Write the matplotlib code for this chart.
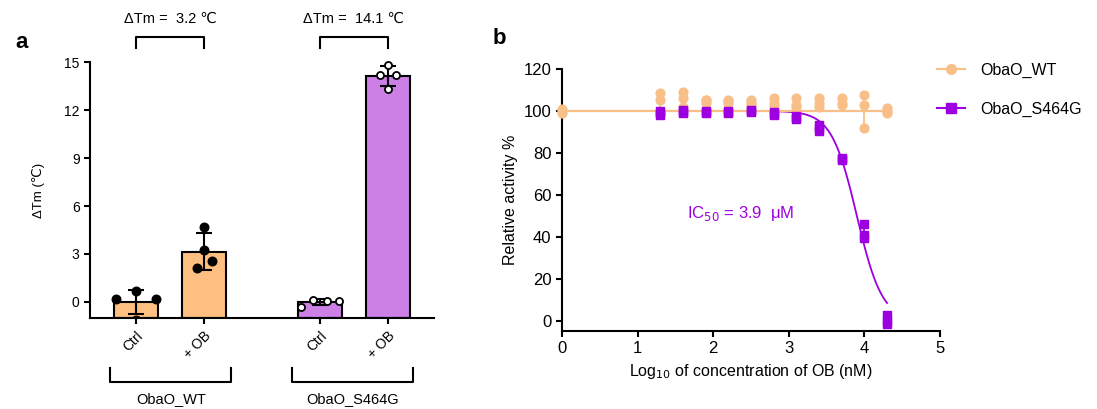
import matplotlib.pyplot as plt
import numpy as np

plt.rcParams['font.family'] = ['Liberation Sans', 'DejaVu Sans']

# ---- panel a data ----
bar_labels = ["Ctrl", "+ OB", "Ctrl", "+ OB"]
bar_pos = [0, 1, 2.7, 3.7]
wt_ctrl = [0.2, 0.7, 0.2, -1.1]
wt_ob = [4.7, 3.25, 2.55, 2.1]
mut_ctrl = [-0.3, 0.1, 0.05, 0.05]
mut_ob = [14.8, 14.2, 14.2, 13.3]
# horizontal spread of the replicate dots within each bar
wt_ctrl_dx = [-0.29, 0.0, 0.29, 0.0]
wt_ob_dx = [0.0, 0.0, 0.12, -0.1]
mut_ctrl_dx = [-0.27, -0.1, 0.1, 0.28]
mut_ob_dx = [0.0, -0.12, 0.12, 0.0]
group_names = ["ObaO_WT", "ObaO_S464G"]
delta_texts = ["ΔTm =  3.2 ℃", "ΔTm =  14.1 ℃"]

# ---- panel b data ----
wt_conc = [0, 1.3, 1.6, 1.9, 2.2, 2.5, 2.8, 3.1, 3.4, 3.7, 4.0, 4.3]
wt_act = [
    [101, 99, 100],
    [108.5, 105, 98.5],
    [109, 106, 102],
    [105, 105, 104],
    [105, 104.5, 104],
    [105, 104, 103],
    [106, 104, 102.5],
    [106, 103, 102],
    [106, 104, 102],
    [106, 104, 103],
    [107.5, 103, 92],
    [101.5, 100, 99],
]
mut_conc = [1.3, 1.6, 1.9, 2.2, 2.5, 2.8, 3.1, 3.4, 3.7, 4.0, 4.3]
mut_act = [
    [100, 99, 98],
    [100.5, 99.5, 99],
    [100, 99.5, 99],
    [100, 99.5, 99],
    [100.5, 100, 99.5],
    [99.5, 98.5, 98],
    [97.5, 96.5, 96],
    [93.5, 92, 90.5],
    [77.5, 77, 76.5],
    [46, 41, 39.5],
    [2.5, 0, -1.5],
]
wt_fit_level = 100
mut_log_ic50 = 3.9
mut_hill = 2.6

orange_bar = '#FFBF80'
purple_bar = '#CC80E5'
orange = '#F8BF88'
purple = '#9C00E0'

fig = plt.figure(figsize=(10.97, 4.09), dpi=100)

# ================= panel a =================
ax = fig.add_axes([0.082, 0.2225, 0.3136, 0.6259])
groups = [wt_ctrl, wt_ob, mut_ctrl, mut_ob]
spreads = [wt_ctrl_dx, wt_ob_dx, mut_ctrl_dx, mut_ob_dx]
colors = [orange_bar, orange_bar, purple_bar, purple_bar]
means = np.array([np.mean(g) for g in groups])
sds = [np.std(g, ddof=1) for g in groups]
base = -1
ax.bar(bar_pos, means - base, bottom=base, width=0.65, color=colors, edgecolor='black',
       linewidth=1.5, zorder=1)
ax.errorbar(bar_pos, means, yerr=sds, fmt='none', ecolor='black', elinewidth=1.5,
            capsize=6, capthick=1.5, zorder=3)
for i, g in enumerate(groups):
    xs = [bar_pos[i] + d for d in spreads[i]]
    if i < 2:
        ax.scatter(xs, g, s=38, color='black', zorder=4)
    else:
        ax.scatter(xs, g, s=26, facecolor='white', edgecolor='black', linewidth=1.3,
                   zorder=4, clip_on=False)

ax.set_ylim(-1, 15)
ax.set_xlim(-0.68, 4.38)
ax.set_yticks([0, 3, 6, 9, 12, 15])
ax.set_xticks(bar_pos)
ax.set_xticklabels(bar_labels, rotation=45, ha='right', rotation_mode='anchor')
ax.tick_params(labelsize=10, width=1.5, length=4)
ax.spines['top'].set_visible(False)
ax.spines['right'].set_visible(False)
ax.spines['left'].set_linewidth(1.5)
ax.spines['bottom'].set_linewidth(1.5)
ax.set_ylabel("ΔTm (℃)", fontsize=9.5, labelpad=14)

trans = ax.get_xaxis_transform()
# top brackets with delta Tm
for (x0, x1), txt in zip([(0, 1), (2.7, 3.7)], delta_texts):
    ax.plot([x0, x0, x1, x1], [1.055, 1.098, 1.098, 1.055], color='black', lw=1.5,
            transform=trans, clip_on=False)
    ax.text((x0 + x1) / 2, 1.17, txt, transform=trans, ha='center', va='center', fontsize=10.5)
# bottom group brackets
for (x0, x1), name in zip([(-0.38, 1.40), (2.29, 4.07)], group_names):
    ax.plot([x0, x0, x1, x1], [-0.195, -0.25, -0.25, -0.195], color='black', lw=1.5,
            transform=trans, clip_on=False)
    ax.text((x0 + x1) / 2, -0.315, name, transform=trans, ha='center', va='center', fontsize=10.5)

fig.text(0.014, 0.895, "a", fontsize=16, fontweight='bold', va='center')

# ================= panel b =================
bx = fig.add_axes([0.5123, 0.1907, 0.3446, 0.6406])
xfit = np.linspace(0, 4.3, 300)
bx.plot(xfit, 100 / (1 + 10 ** ((xfit - mut_log_ic50) * mut_hill)), color=purple, lw=1.3, zorder=2)
bx.plot([0, 4.3], [wt_fit_level, wt_fit_level], color=orange, lw=1.6, zorder=3)

wt_arr = np.array(wt_act)
mut_arr = np.array(mut_act)
bx.errorbar(wt_conc, wt_arr.mean(axis=1), yerr=wt_arr.std(axis=1, ddof=1), fmt='none',
            ecolor=orange, elinewidth=1.3, capsize=3, zorder=3)
bx.errorbar(mut_conc, mut_arr.mean(axis=1), yerr=mut_arr.std(axis=1, ddof=1), fmt='none',
            ecolor=purple, elinewidth=1.3, capsize=3, zorder=4)
for j in range(wt_arr.shape[1]):
    bx.scatter(wt_conc, wt_arr[:, j], s=40, marker='o', color=orange, zorder=4, clip_on=False)
for j in range(mut_arr.shape[1]):
    bx.scatter(mut_conc, mut_arr[:, j], s=36, marker='s', color=purple, zorder=5, clip_on=False)

# legend handles
bx.plot([], [], color=orange, marker='o', markersize=7, lw=1.5, label='ObaO_WT')
bx.plot([], [], color=purple, marker='s', markersize=6.5, lw=1.5, label='ObaO_S464G')
bx.legend(loc='upper left', bbox_to_anchor=(0.992, 1.025), frameon=False, fontsize=11.5,
          handlelength=1.75, labelspacing=1.5, handletextpad=0.95, borderpad=0,
          borderaxespad=0)

bx.set_xlim(0, 5)
bx.set_ylim(-5, 120)
bx.set_xticks([0, 1, 2, 3, 4, 5])
bx.set_yticks([0, 20, 40, 60, 80, 100, 120])
bx.spines['top'].set_visible(False)
bx.spines['right'].set_visible(False)
bx.spines['left'].set_linewidth(1.5)
bx.spines['bottom'].set_linewidth(1.5)
bx.tick_params(labelsize=12, width=1.5, length=4)
bx.set_ylabel("Relative activity %", fontsize=11.5)
bx.set_xlabel("Log$_{10}$ of concentration of OB (nM)", fontsize=11.5)
bx.text(2.37, 51, "IC$_{50}$ = 3.9  μM", color=purple, fontsize=12, ha='center', va='center')

fig.text(0.449, 0.905, "b", fontsize=16, fontweight='bold', va='center')

fig.savefig("out.png", dpi=100)
